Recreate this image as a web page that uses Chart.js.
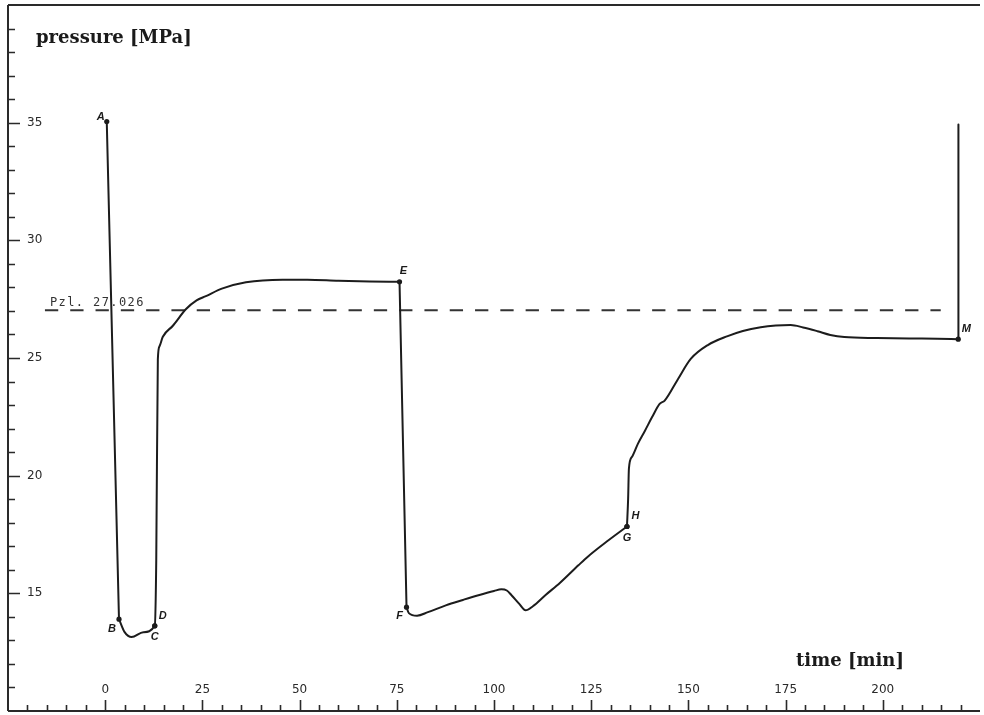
<!DOCTYPE html>
<html><head><meta charset="utf-8">
<script src="https://cdn.jsdelivr.net/npm/chart.js@4.4.1/dist/chart.umd.min.js"></script>
<style>html,body{margin:0;padding:0;background:#fff;overflow:hidden}canvas{display:block}</style>
</head><body>
<canvas id="c" width="984" height="715"></canvas>
<script>
// ---- data ----
const timeMin = [0.4, 3.55, 5.0, 6.8, 9.8, 12.75, 13.13, 13.54, 13.97, 14.82, 17.4, 20.8, 23.5, 25.9, 30.0, 36.2, 45.6, 52.0, 60.0, 68.0, 75.7,
  77.5, 78.1, 80.2, 83.0, 87.6, 92.0, 96.0, 100.0, 101.9, 103.3, 104.5, 106.5, 108.1, 110.0, 113.2, 117.0, 121.7, 124.2, 129.0, 134.2,
  134.5, 134.7, 135.5, 137.0, 138.8, 140.7, 142.6, 143.9, 147.3, 150.6, 155.0, 160.1, 164.0, 168.6, 172.5, 176.3, 179.5, 183.2, 186.5, 190.1, 198.5, 207.0, 214.0, 219.4, 219.45];
const pressureMPa = [35.05, 13.9, 13.35, 13.14, 13.35, 13.62, 16.4, 24.95, 25.5, 25.9, 26.37, 27.08, 27.45, 27.63, 27.95, 28.22, 28.33, 28.33, 28.28, 28.25, 28.24,
  14.41, 14.16, 14.05, 14.2, 14.49, 14.72, 14.92, 15.1, 15.17, 15.12, 14.92, 14.55, 14.28, 14.45, 14.92, 15.45, 16.19, 16.57, 17.2, 17.84,
  19.03, 20.3, 20.8, 21.35, 21.9, 22.5, 23.05, 23.19, 24.1, 24.96, 25.55, 25.93, 26.15, 26.31, 26.38, 26.4, 26.3, 26.14, 25.98, 25.89, 25.85, 25.83, 25.82, 25.8, 34.92];

const markerNames = ['A', 'B', 'C', 'D', 'E', 'F', 'G', 'H', 'M'];
const markerTime = [0.4, 3.55, 12.75, 12.75, 75.7, 77.5, 134.2, 134.2, 219.4];
const markerPressure = [35.05, 13.9, 13.62, 13.62, 28.24, 14.41, 17.84, 17.84, 25.8];

// stretches between marked points: straight (true) or smooth (false)
const stretchFrom = ['A', 'B', 'E', 'F', 'G', 'M'];
const stretchTo = ['B', 'E', 'F', 'G', 'M', null];
const stretchStraight = [true, false, true, false, false, true];

const refLevel = 27.026;
const refLabel = 'Pzl. 27.026';
const refStart = -15.5;
const refEnd = 214.9;

const xTickValues = [0, 25, 50, 75, 100, 125, 150, 175, 200];
const xTickLabels = ['0', '25', '50', '75', '100', '125', '150', '175', '200'];
const yTickValues = [15, 20, 25, 30, 35];
const yTickLabels = ['15', '20', '25', '30', '35'];
const yAxisTitle = 'pressure [MPa]';
const xAxisTitle = 'time [min]';

// ---- styles / offsets (not data) ----
const labelOffsets = { A: [-6, -5], B: [-7, 10], C: [0, 11], D: [8, -10], E: [4, -11], F: [-7, 9], G: [0, 11.5], H: [8.5, -10.5], M: [8, -10] };
const INK = '#1c1c1c';

const mainPts = timeMin.map((t, i) => ({ x: t, y: pressureMPa[i] }));
const markerPts = markerTime.map((t, i) => ({ x: t, y: markerPressure[i] }));

function idxOf(name) {
  if (name === null) return timeMin.length - 1;
  const m = markerNames.indexOf(name);
  return timeMin.indexOf(markerTime[m]);
}
const curveSets = stretchFrom.map((f, k) => {
  const i0 = idxOf(f), i1 = idxOf(stretchTo[k]);
  return {
    label: 'pressure ' + f,
    data: mainPts.slice(i0, i1 + 1),
    showLine: true, borderColor: INK, borderWidth: 2, pointRadius: 0, fill: false,
    borderCapStyle: 'round', borderJoinStyle: 'round',
    cubicInterpolationMode: stretchStraight[k] ? 'default' : 'monotone',
    tension: 0
  };
});

const paperPlugin = {
  id: 'paper',
  beforeDraw(chart) {
    const ctx = chart.ctx;
    ctx.save();
    ctx.fillStyle = '#fff';
    ctx.fillRect(0, 0, chart.width, chart.height);
    ctx.restore();
  },
  beforeDatasetsDraw(chart) {
    const ctx = chart.ctx, a = chart.chartArea, xs = chart.scales.x, ys = chart.scales.y;
    ctx.save();
    ctx.strokeStyle = '#2a2a2a';
    ctx.lineWidth = 2;
    ctx.beginPath();
    ctx.moveTo(a.left, a.top); ctx.lineTo(a.left, a.bottom);
    ctx.moveTo(a.left, a.bottom); ctx.lineTo(a.right, a.bottom);
    ctx.moveTo(a.left, a.top); ctx.lineTo(a.right, a.top);
    ctx.stroke();
    ctx.lineWidth = 1.6;
    ctx.beginPath();
    for (let v = Math.ceil(ys.min) + 1; v < ys.max; v++) {
      const py = Math.round(ys.getPixelForValue(v)) + 0.5;
      const len = yTickValues.includes(v) ? 12 : 7;
      ctx.moveTo(a.left, py); ctx.lineTo(a.left + len, py);
    }
    for (let v = -20; v < xs.max; v += 5) {
      const px = Math.round(xs.getPixelForValue(v)) + 0.5;
      const len = xTickValues.includes(v) ? 11 : 6;
      ctx.moveTo(px, a.bottom); ctx.lineTo(px, a.bottom - len);
    }
    ctx.stroke();
    ctx.fillStyle = '#2a2a2a';
    ctx.font = '12px "DejaVu Sans"';
    ctx.textBaseline = 'middle';
    ctx.textAlign = 'left';
    yTickValues.forEach((v, i) => ctx.fillText(yTickLabels[i], a.left + 19, ys.getPixelForValue(v)));
    ctx.textAlign = 'center';
    xTickValues.forEach((v, i) => ctx.fillText(xTickLabels[i], xs.getPixelForValue(v), a.bottom - 21));
    ctx.fillStyle = '#1a1a1a';
    ctx.font = 'bold 18px "DejaVu Serif"';
    ctx.textBaseline = 'alphabetic';
    ctx.textAlign = 'left';
    ctx.fillText(yAxisTitle, a.left + 28, 43);
    ctx.fillText(xAxisTitle, 796, 666);
    ctx.fillStyle = '#333';
    ctx.font = '12px "DejaVu Sans Mono"';
    ctx.letterSpacing = '1.4px';
    ctx.fillText(refLabel, xs.getPixelForValue(refStart) + 5, ys.getPixelForValue(refLevel) - 4);
    ctx.restore();
  },
  afterDatasetsDraw(chart) {
    const ctx = chart.ctx, xs = chart.scales.x, ys = chart.scales.y;
    ctx.save();
    ctx.fillStyle = '#1a1a1a';
    ctx.font = 'italic bold 11px "Liberation Sans"';
    ctx.textAlign = 'center';
    ctx.textBaseline = 'middle';
    markerNames.forEach((n, i) => {
      const o = labelOffsets[n];
      ctx.fillText(n, xs.getPixelForValue(markerTime[i]) + o[0], ys.getPixelForValue(markerPressure[i]) + o[1]);
    });
    ctx.restore();
  }
};

new Chart(document.getElementById('c'), {
  type: 'scatter',
  data: {
    datasets: curveSets.concat([
      { label: 'Pzl', data: [{ x: refStart, y: refLevel }, { x: refEnd, y: refLevel }], showLine: true, borderColor: '#333', borderWidth: 2, borderDash: [13.3, 12], pointRadius: 0, fill: false },
      { label: 'markers', data: markerPts, showLine: false, pointRadius: 2.6, pointBackgroundColor: INK, pointBorderColor: INK, pointBorderWidth: 0 }
    ])
  },
  options: {
    responsive: false,
    animation: false,
    layout: { padding: { left: 8, right: 1, top: 5, bottom: 2 } },
    scales: {
      x: { type: 'linear', min: -25, max: 225, display: false },
      y: { type: 'linear', min: 10, max: 40, display: false }
    },
    plugins: { legend: { display: false }, tooltip: { enabled: false } }
  },
  plugins: [paperPlugin]
});
</script>
</body></html>
